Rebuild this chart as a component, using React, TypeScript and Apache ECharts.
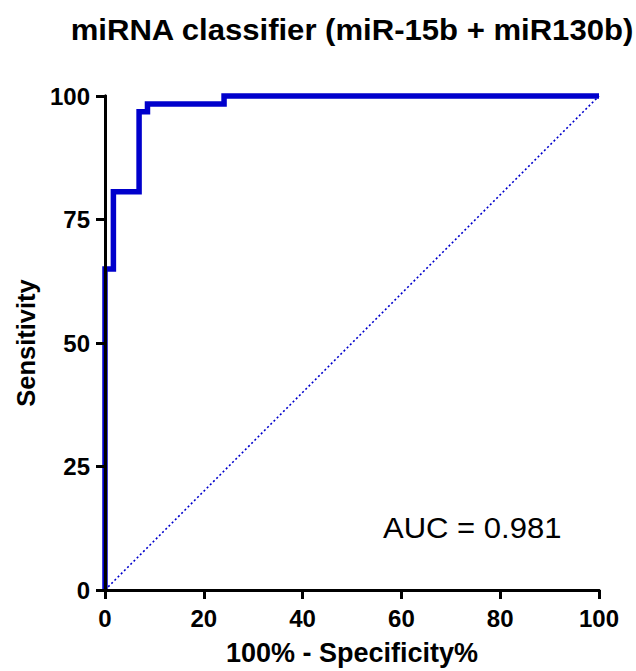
import React, { useEffect, useRef } from "react";
import * as echarts from "echarts";

const titleText = "miRNA classifier (miR-15b + miR130b)";
const xAxisName = "100% - Specificity%";
const yAxisName = "Sensitivity";
const aucText = "AUC = 0.981";

// ROC curve corner points (100% - specificity, sensitivity)
const rocX = [0, 0, 1.7, 1.7, 6.9, 6.9, 8.6, 8.6, 24.1, 24.1, 100];
const rocY = [0, 65, 65, 80.6, 80.6, 96.8, 96.8, 98.4, 98.4, 100, 100];
// reference diagonal
const diagX = [0, 100];
const diagY = [0, 100];

const xMin = 0, xMax = 100, xStep = 20;
const yMin = 0, yMax = 100, yStep = 25;

const FONT = '"Liberation Sans", Arial, Helvetica, sans-serif';

export default function App() {
  const ref = useRef<HTMLDivElement>(null);
  useEffect(() => {
    if (!ref.current) return;
    const chart = echarts.init(ref.current, null, { renderer: "svg" });
    const axisLine = { show: true, lineStyle: { color: "#000", width: 3 } };
    const labelStyle = { color: "#000", fontSize: 24, fontWeight: "bold" as const, fontFamily: FONT };
    chart.setOption({
      animation: false,
      backgroundColor: "#fff",
      grid: { left: 105, right: 37, top: 96, bottom: 81, outerBoundsMode: "none" },
      xAxis: [
        {
          type: "value", min: xMin, max: xMax, interval: xStep, position: "bottom", z: 5,
          axisLine, axisTick: { show: true, length: 9, lineStyle: { color: "#000", width: 3 } },
          axisLabel: { ...labelStyle, margin: 16 },
          splitLine: { show: false },
          name: xAxisName, nameLocation: "middle", nameGap: 63,
          nameTextStyle: { color: "#000", fontSize: 27, fontWeight: "bold", fontFamily: FONT, verticalAlign: "middle" },
        },
        {
          type: "value", min: xMin, max: xMax, position: "top", offset: 2, z: 5,
          axisLine, axisTick: { show: false }, axisLabel: { show: false }, splitLine: { show: false },
        },
      ],
      yAxis: [
        {
          type: "value", min: yMin, max: yMax, interval: yStep, position: "left", z: 5,
          axisLine, axisTick: { show: true, length: 9, lineStyle: { color: "#000", width: 3 } },
          axisLabel: { ...labelStyle, margin: 15 },
          splitLine: { show: false },
          name: yAxisName, nameLocation: "middle", nameGap: 76,
          nameTextStyle: { color: "#000", fontSize: 25.5, fontWeight: "bold", fontFamily: FONT, verticalAlign: "middle" },
        },
        {
          type: "value", min: yMin, max: yMax, position: "right", z: 5,
          axisLine, axisTick: { show: false }, axisLabel: { show: false }, splitLine: { show: false },
        },
      ],
      series: [
        {
          type: "line",
          data: diagX.map((x, i) => [x, diagY[i]]),
          symbol: "none",
          lineStyle: { color: "#0000CC", width: 1.6, type: [2, 2.5] },
          z: 2,
        },
        {
          type: "line",
          data: rocX.map((x, i) => [x, rocY[i]]),
          symbol: "none",
          clip: false,
          lineStyle: { color: "#0000CC", width: 5.5, join: "miter", cap: "butt" },
          z: 3,
        },
      ],
      graphic: [
        {
          type: "text", x: 352, y: 29, scaleX: 1.036,
          style: { text: titleText, fill: "#000", fontSize: 30, fontWeight: "bold", fontFamily: FONT, align: "center", verticalAlign: "middle" },
        },
        {
          type: "text", x: 383, y: 528, scaleX: 1.07,
          style: { text: aucText, fill: "#000", fontSize: 29, fontWeight: "normal", fontFamily: FONT, align: "left", verticalAlign: "middle" },
        },
      ],
    });
    return () => chart.dispose();
  }, []);
  return <div ref={ref} style={{ position: "fixed", left: 0, top: 0, width: 636, height: 671 }} />;
}
